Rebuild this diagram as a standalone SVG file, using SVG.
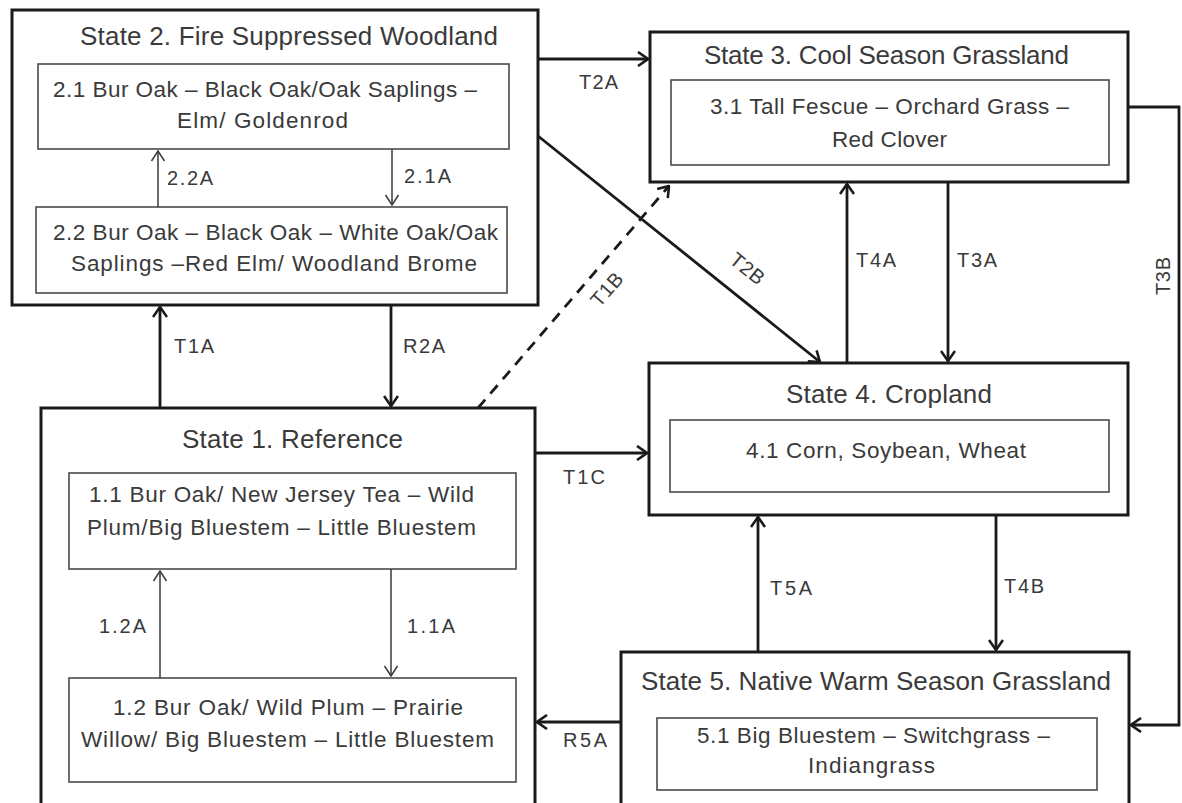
<svg xmlns="http://www.w3.org/2000/svg" width="1182" height="803" viewBox="0 0 1182 803">
<style>
.state{fill:#fff;stroke:#1a1a1a;stroke-width:3}
.inner{fill:#fff;stroke:#4a4a4a;stroke-width:1.6}
.t{font-family:"Liberation Sans",Arial,sans-serif;fill:#3a3a3a}
.title{font-size:26px;text-anchor:middle}
.body{font-size:22.5px;text-anchor:middle}
.lbl{font-size:20px}
.thick{fill:none;stroke:#1a1a1a;stroke-width:2.8}
.thin{fill:none;stroke:#3a3a3a;stroke-width:1.5}
</style>
<defs>
<marker id="ah" markerUnits="userSpaceOnUse" viewBox="0 0 12 16" refX="11" refY="8" markerWidth="12" markerHeight="16" orient="auto">
<path d="M1,1 L11,8 L1,15" fill="none" stroke="#1a1a1a" stroke-width="2.6"/>
</marker>
<marker id="ahs" markerUnits="userSpaceOnUse" viewBox="0 0 12 16" refX="11" refY="8" markerWidth="12" markerHeight="16" orient="auto">
<path d="M1,1.5 L11,8 L1,14.5" fill="none" stroke="#3a3a3a" stroke-width="1.5"/>
</marker>
</defs>
<rect width="1182" height="803" fill="#fff"/>

<g id="connectors">
<line class="thick" x1="538" y1="59" x2="648" y2="59" marker-end="url(#ah)"/>
<line class="thick" x1="538" y1="136" x2="820" y2="362" marker-end="url(#ah)"/>
<line class="thick" x1="478" y1="408" x2="669" y2="186" stroke-dasharray="11,8" marker-end="url(#ah)"/>
<line class="thick" x1="847" y1="363" x2="847" y2="184" marker-end="url(#ah)"/>
<line class="thick" x1="948" y1="182" x2="948" y2="361" marker-end="url(#ah)"/>
<polyline class="thick" points="1128,107 1179,107 1179,725 1131,725" marker-end="url(#ah)"/>
<line class="thick" x1="160" y1="408" x2="160" y2="307" marker-end="url(#ah)"/>
<line class="thick" x1="391" y1="305" x2="391" y2="406" marker-end="url(#ah)"/>
<line class="thick" x1="535" y1="453" x2="647" y2="453" marker-end="url(#ah)"/>
<line class="thick" x1="758" y1="652" x2="758" y2="517" marker-end="url(#ah)"/>
<line class="thick" x1="996" y1="515" x2="996" y2="650" marker-end="url(#ah)"/>
<line class="thick" x1="621" y1="722" x2="537" y2="722" marker-end="url(#ah)"/>
<text class="t lbl" x="579" y="89" textLength="39">T2A</text>
<text class="t lbl" x="174" y="353" textLength="40">T1A</text>
<text class="t lbl" x="403" y="353" textLength="42">R2A</text>
<text class="t lbl" x="856" y="267" textLength="40">T4A</text>
<text class="t lbl" x="957" y="267" textLength="40">T3A</text>
<text class="t lbl" x="563" y="484" textLength="42">T1C</text>
<text class="t lbl" x="770" y="595" textLength="42">T5A</text>
<text class="t lbl" x="1004" y="593" textLength="40">T4B</text>
<text class="t lbl" x="563" y="747" textLength="44">R5A</text>
<text class="t lbl" text-anchor="middle" transform="translate(1170,276) rotate(-90)" textLength="38">T3B</text>
<text class="t lbl" text-anchor="middle" transform="translate(743,274) rotate(39)" textLength="38">T2B</text>
<text class="t lbl" text-anchor="middle" transform="translate(612,294) rotate(-49)" textLength="38">T1B</text>
</g>

<g id="state2">
<rect class="state" x="12" y="10" width="526" height="295"/>
<text class="t title" x="289" y="45" textLength="418">State 2. Fire Suppressed Woodland</text>
<rect class="inner" x="38" y="64" width="471" height="85"/>
<text class="t body" x="265" y="97" textLength="424">2.1 Bur Oak – Black Oak/Oak Saplings –</text>
<text class="t body" x="262.5" y="128" textLength="171">Elm/ Goldenrod</text>
<rect class="inner" x="36" y="207" width="471" height="86"/>
<text class="t body" x="275.5" y="240" textLength="445">2.2 Bur Oak – Black Oak – White Oak/Oak</text>
<text class="t body" x="274" y="271" textLength="406">Saplings –Red Elm/ Woodland Brome</text>
<line class="thin" x1="158" y1="207" x2="158" y2="151" marker-end="url(#ahs)"/>
<line class="thin" x1="392" y1="149" x2="392" y2="205" marker-end="url(#ahs)"/>
<text class="t lbl" x="167" y="185" textLength="46">2.2A</text>
<text class="t lbl" x="404" y="183" textLength="47">2.1A</text>
</g>

<g id="state3">
<rect class="state" x="650" y="32" width="478" height="150"/>
<text class="t title" x="886.5" y="64" textLength="365">State 3. Cool Season Grassland</text>
<rect class="inner" x="671" y="80" width="438" height="85"/>
<text class="t body" x="889.5" y="114" textLength="359">3.1 Tall Fescue – Orchard Grass –</text>
<text class="t body" x="889.5" y="147" textLength="115">Red Clover</text>
</g>

<g id="state4">
<rect class="state" x="649" y="363" width="479" height="152"/>
<text class="t title" x="889" y="403" textLength="206">State 4. Cropland</text>
<rect class="inner" x="670" y="420" width="439" height="72"/>
<text class="t body" x="886" y="458" textLength="280">4.1 Corn, Soybean, Wheat</text>
</g>

<g id="state1">
<rect class="state" x="41" y="408" width="494" height="420"/>
<text class="t title" x="292.5" y="448" textLength="221">State 1. Reference</text>
<rect class="inner" x="69" y="473" width="447" height="96"/>
<text class="t body" x="281.5" y="502" textLength="385">1.1 Bur Oak/ New  Jersey Tea – Wild</text>
<text class="t body" x="281.5" y="535" textLength="389">Plum/Big Bluestem  – Little Bluestem</text>
<rect class="inner" x="69" y="678" width="447" height="104"/>
<text class="t body" x="288" y="715" textLength="350">1.2 Bur Oak/ Wild Plum – Prairie</text>
<text class="t body" x="287.5" y="747" textLength="413">Willow/ Big Bluestem – Little Bluestem</text>
<line class="thin" x1="160" y1="678" x2="160" y2="571" marker-end="url(#ahs)"/>
<line class="thin" x1="391" y1="569" x2="391" y2="676" marker-end="url(#ahs)"/>
<text class="t lbl" x="99" y="633" textLength="47">1.2A</text>
<text class="t lbl" x="407" y="633" textLength="48">1.1A</text>
</g>

<g id="state5">
<rect class="state" x="621" y="652" width="508" height="170"/>
<text class="t title" x="876" y="690" textLength="470">State 5. Native Warm Season Grassland</text>
<rect class="inner" x="657" y="718" width="440" height="72"/>
<text class="t body" x="873.5" y="743" textLength="353">5.1 Big Bluestem – Switchgrass –</text>
<text class="t body" x="871.5" y="773" textLength="127">Indiangrass</text>
</g>
</svg>
